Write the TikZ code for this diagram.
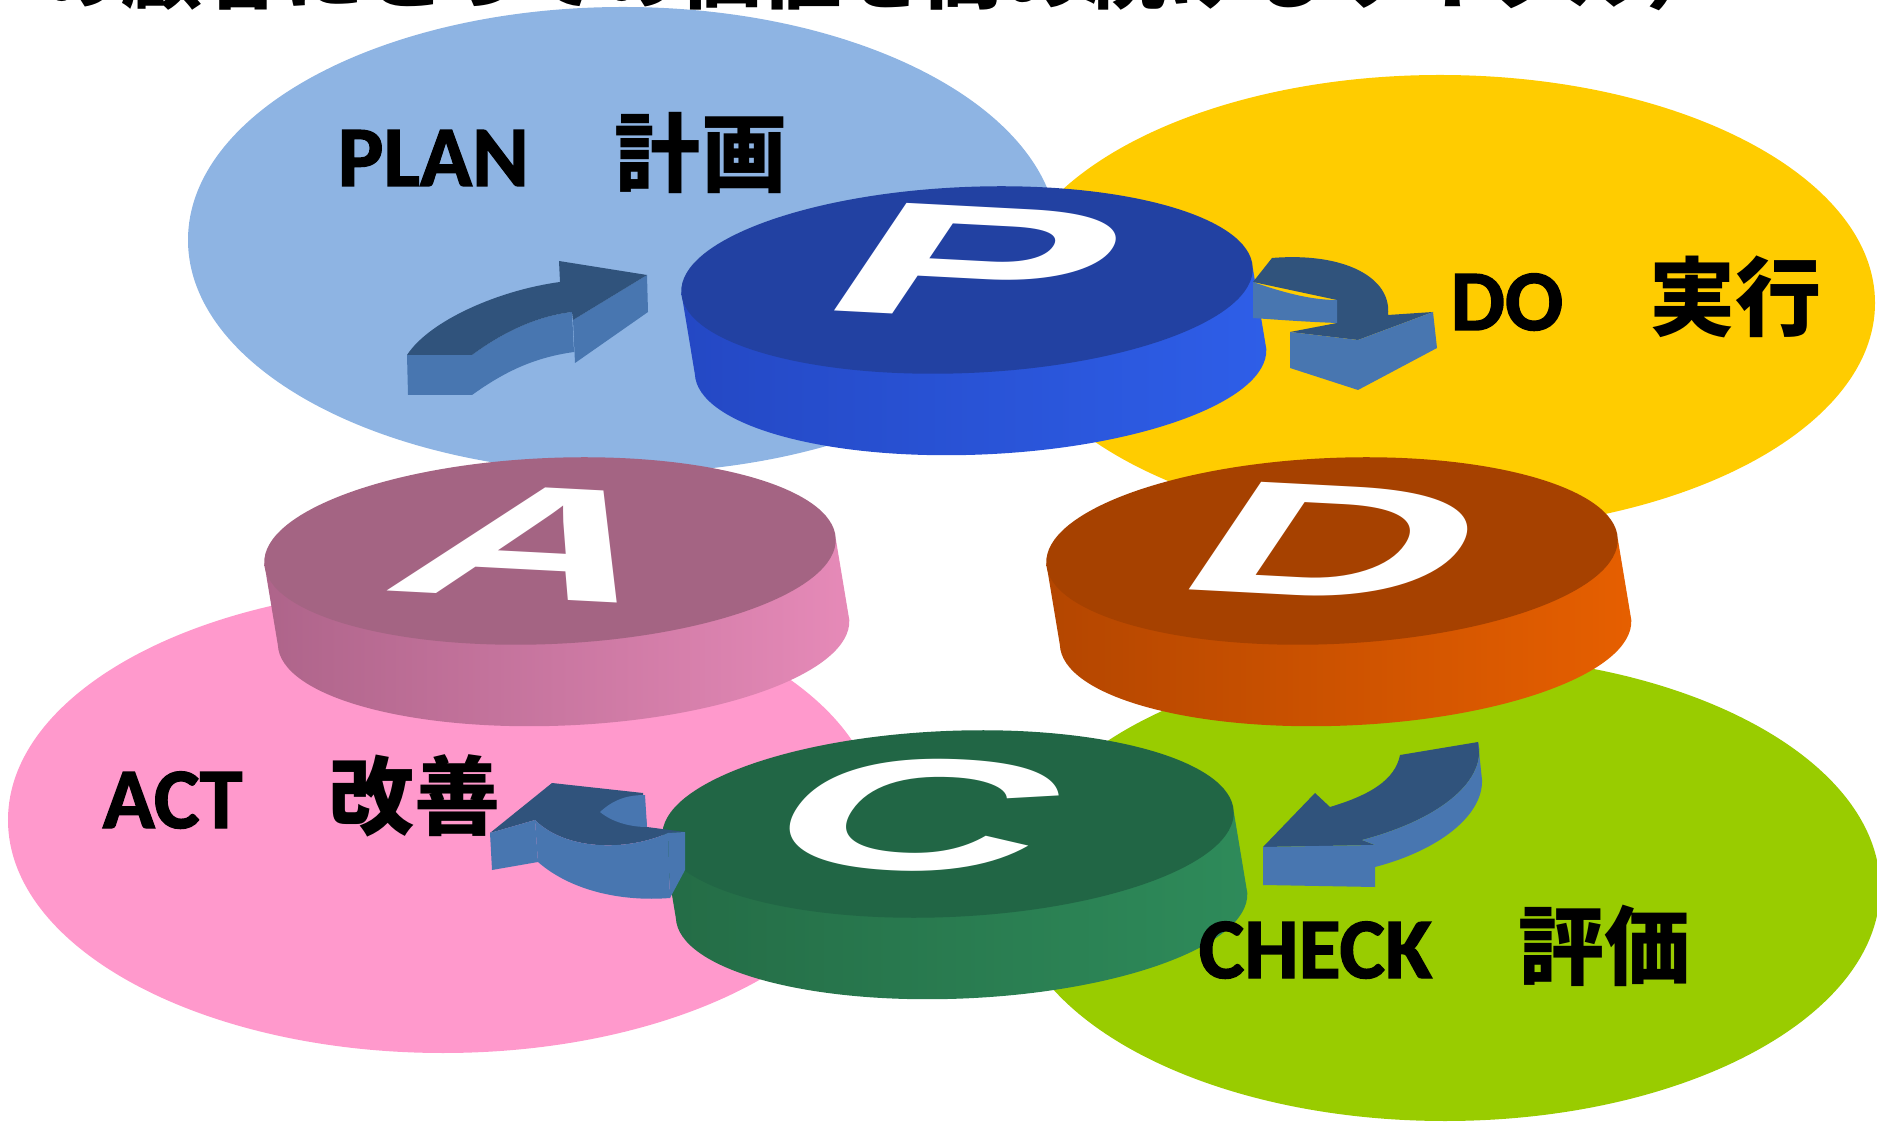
\documentclass[tikz,border=0pt]{standalone}
\usepackage{fontspec}
\newfontfamily\jpfont{Noto Sans CJK JP}
\newfontfamily\latinfont{Carlito}[BoldFeatures={FakeBold=1.6}]
\newfontfamily\letterfont{Liberation Sans}

% background ellipses
\definecolor{planBg}{RGB}{142,180,227}
\definecolor{doBg}{RGB}{255,204,0}
\definecolor{actBg}{RGB}{255,153,204}
\definecolor{checkBg}{RGB}{153,204,0}
% discs: top face, side (dark end, light end)
\definecolor{discPTop}{RGB}{34,65,162}
\definecolor{discPSideL}{RGB}{36,72,196}
\definecolor{discPSideR}{RGB}{46,94,232}
\definecolor{discDTop}{RGB}{166,65,0}
\definecolor{discDSideL}{RGB}{180,70,0}
\definecolor{discDSideR}{RGB}{230,95,0}
\definecolor{discATop}{RGB}{164,100,131}
\definecolor{discASideL}{RGB}{174,100,138}
\definecolor{discASideR}{RGB}{230,138,184}
\definecolor{discCTop}{RGB}{33,102,69}
\definecolor{discCSideL}{RGB}{36,108,70}
\definecolor{discCSideR}{RGB}{46,139,90}
% block arrows
\definecolor{arrowTopC}{RGB}{48,83,124}
\definecolor{arrowSideC}{RGB}{72,118,176}

\begin{document}
\begin{tikzpicture}[bgEllipse/.style={x radius=4.35, y radius=2.33},
    discLetter/.style={text=white, inner sep=0pt, transform shape,
      font=\letterfont\bfseries\fontsize{115}{115}\selectfont},
    stageText/.style={anchor=base west, inner sep=0pt,
      font=\jpfont\bfseries\fontsize{24.5}{28}\selectfont},
    titleText/.style={anchor=base west, inner sep=0pt,
      font=\jpfont\bfseries\fontsize{23}{28}\selectfont},
    arrowTop/.style={fill=arrowTopC},
    arrowSide/.style={fill=arrowSideC}]

    \useasboundingbox (0,0) rectangle (18.77,-11.24);

    % Title line (cut by the page edge)
    \node[titleText] (title) at (0.40,-0.03) {の顧客にとっての価値を高め続けるサイクル）};

    % Background ellipses
    \fill[planBg] (6.23,-2.40) ellipse [bgEllipse];
    \fill[doBg] (14.40,-3.03) ellipse [bgEllipse, y radius=2.28];
    \fill[actBg] (4.43,-8.20) ellipse [bgEllipse];
    \fill[checkBg] (14.45,-8.88) ellipse [bgEllipse];

    % Discs with their letters
    \foreach \n/\cx/\cy/\lx/\ly/\sx in {P/9.67/-2.80/9.78/-2.63/1, A/5.50/-5.51/5.39/-5.43/0.85,
        D/13.32/-5.51/13.38/-5.42/0.95, C/9.48/-8.24/9.19/-8.15/0.94} {
      \begin{scope}[shift={(\cx,\cy)}, rotate=2.5]
        \shade[left color=disc\n SideL, right color=disc\n SideR]
          (-2.86,0) -- (-2.76,-0.82)
          arc[start angle=180, end angle=360, x radius=2.86, y radius=0.93]
          -- (2.86,0) -- cycle;
        \fill[disc\n Top] (0,0) ellipse [x radius=2.86, y radius=0.93];
      \end{scope}
      \begin{scope}[shift={(\lx,\ly)}, rotate=-3, xslant=0.6, yscale=0.4, xscale=\sx]
        \node[discLetter] (letter\n) {\n};
      \end{scope}
    }

    % Arrow A -> P
    \fill[arrowSide] (4.07,-3.55) -- (4.72,-3.55) -- (4.72,-3.95) -- (4.08,-3.95) -- cycle;
    \fill[arrowSide] (4.72,-3.55) .. controls (4.95,-3.38) and (5.30,-3.17) .. (5.72,-3.12)
      -- (5.74,-3.52) .. controls (5.30,-3.58) and (5.00,-3.75) .. (4.72,-3.95) -- cycle;
    \fill[arrowSide] (5.73,-3.20) -- (6.47,-2.75) -- (6.48,-3.12) -- (5.75,-3.63) -- cycle;
    \fill[arrowTop] (4.07,-3.55) .. controls (4.30,-3.20) and (5.00,-2.90) .. (5.60,-2.82)
      -- (5.59,-2.61) -- (6.47,-2.75) -- (5.73,-3.20) -- (5.72,-3.12)
      .. controls (5.30,-3.17) and (4.95,-3.38) .. (4.72,-3.55) -- cycle;

    % Arrow P -> D
    \fill[arrowTop] (12.53,-2.82) -- (12.72,-2.58) .. controls (13.45,-2.52) and (13.92,-2.78) .. (13.88,-3.15)
      -- (14.33,-3.12) -- (13.58,-3.40) -- (12.90,-3.32) -- (13.37,-3.23) -- (13.37,-3.00) -- cycle;
    \fill[arrowSide] (12.53,-2.82) .. controls (12.90,-2.95) and (13.15,-3.00) .. (13.37,-3.00)
      -- (13.37,-3.23) .. controls (13.10,-3.22) and (12.80,-3.20) .. (12.53,-3.18) -- cycle;
    \fill[arrowSide] (12.90,-3.32) -- (13.58,-3.40) -- (13.58,-3.90) -- (12.90,-3.68) -- cycle;
    \fill[arrowSide] (13.58,-3.40) -- (14.33,-3.12) -- (14.37,-3.48) -- (13.58,-3.90) -- cycle;

    % Arrow D -> C
    \fill[arrowTop] (14.00,-7.55) -- (14.78,-7.42) .. controls (14.87,-7.78) and (14.45,-8.18) .. (13.62,-8.40)
      -- (13.75,-8.45) -- (12.63,-8.47) -- (13.15,-7.93) -- (13.30,-8.07)
      .. controls (13.70,-7.95) and (13.95,-7.80) .. (14.00,-7.55) -- cycle;
    \fill[arrowSide] (14.78,-7.42) .. controls (14.87,-7.78) and (14.45,-8.18) .. (13.62,-8.40)
      -- (13.75,-8.45) -- (13.75,-8.67) .. controls (14.40,-8.50) and (14.83,-8.15) .. (14.82,-7.80) -- cycle;
    \fill[arrowSide] (12.63,-8.47) -- (13.75,-8.45) -- (13.75,-8.87) -- (12.63,-8.85) -- cycle;

    % Arrow C -> A
    \fill[arrowTop] (4.90,-8.33) -- (5.52,-7.83) -- (6.43,-7.93) -- (6.47,-8.27) -- (6.85,-8.32) -- (6.68,-8.33)
      .. controls (6.25,-8.52) and (5.65,-8.50) .. (5.35,-8.20) -- cycle;
    \fill[arrowSide] (5.35,-8.20) .. controls (5.65,-8.50) and (6.25,-8.52) .. (6.68,-8.33)
      -- (6.70,-8.98) .. controls (6.20,-9.02) and (5.70,-8.90) .. (5.38,-8.62) -- cycle;
    \fill[arrowSide] (4.90,-8.33) -- (5.35,-8.20) -- (5.38,-8.62) -- (4.92,-8.70) -- cycle;
    \fill[arrowSide] (6.68,-8.33) -- (6.85,-8.32) -- (6.85,-8.70) -- (6.70,-8.98) -- cycle;
    \fill[arrowSide] (6.00,-8.12) .. controls (6.15,-7.98) and (6.30,-7.95) .. (6.45,-7.95)
      -- (6.47,-8.27) .. controls (6.30,-8.27) and (6.12,-8.22) .. (6.00,-8.12) -- cycle;

    % Stage names
    \node[stageText] (planText) at (3.37,-1.86) {{\latinfont\bfseries PLAN}　計画};
    \node[stageText] (doText) at (14.50,-3.30) {{\latinfont\bfseries DO}　実行};
    \node[stageText] (actText) at (1.02,-8.28) {{\latinfont\bfseries ACT}　改善};
    \node[stageText] (checkText) at (11.98,-9.78) {{\latinfont\bfseries CHECK}　評価};
\end{tikzpicture}
\end{document}
